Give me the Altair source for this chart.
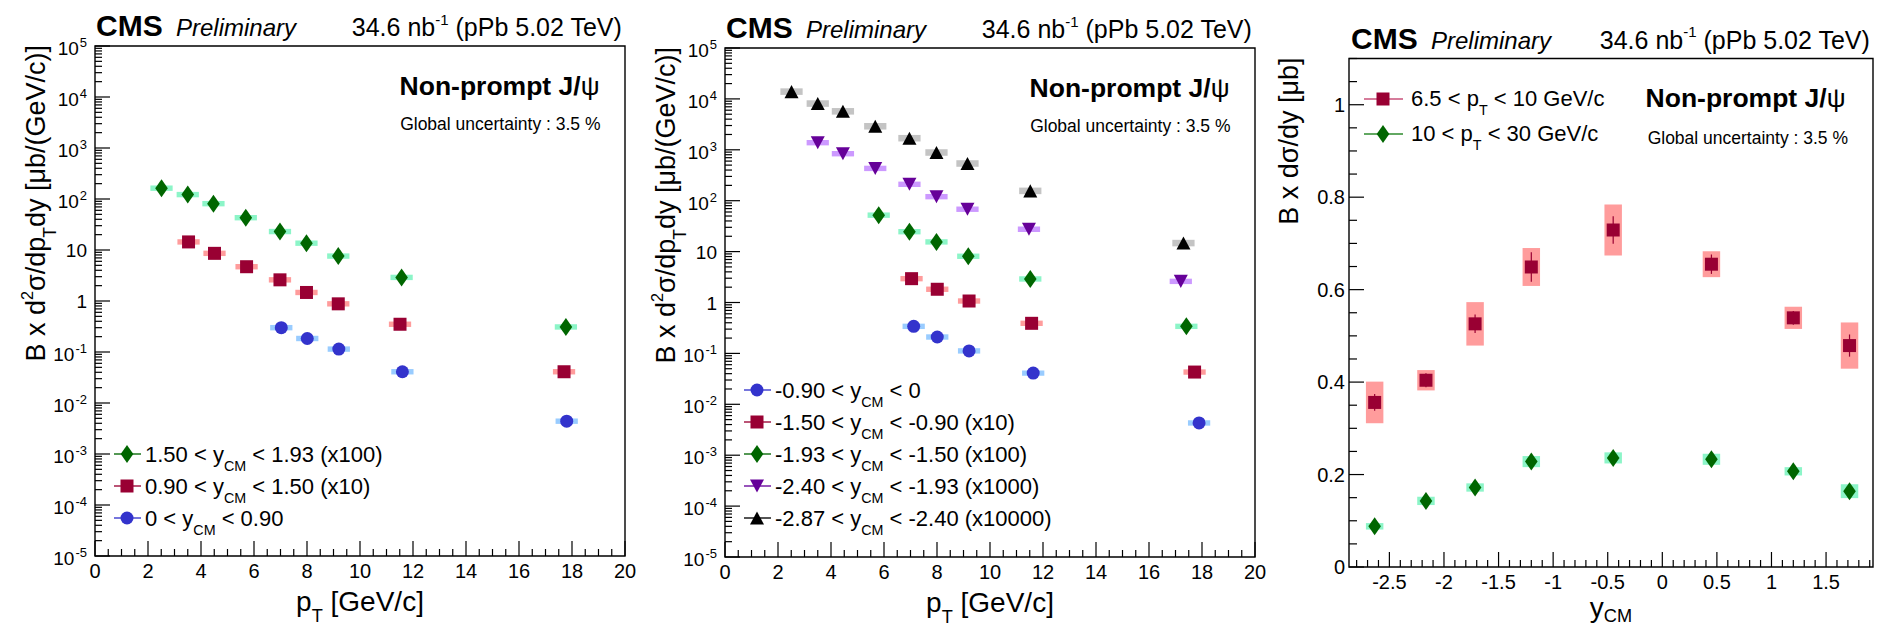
import altair as alt
import pandas as pd

FONT = "Liberation Sans"

# ---------------- values ----------------
# left panel (p-going direction), scaled cross sections
p1_dia_pt = [2.51, 3.50, 4.47, 5.69, 6.98, 7.98, 9.18, 11.57, 17.77]
p1_dia_val = [163, 122, 81, 43, 23, 13.6, 7.6, 2.9, 0.31]
p1_sq_pt = [3.53, 4.51, 5.72, 6.98, 7.98, 9.18, 11.51, 17.70]
p1_sq_val = [14.4, 8.6, 4.7, 2.6, 1.47, 0.88, 0.35, 0.041]
p1_ci_pt = [7.03, 8.01, 9.20, 11.60, 17.80]
p1_ci_val = [0.30, 0.184, 0.114, 0.041, 0.0044]

# middle panel (Pb-going direction)
p2_ci_pt = [7.12, 8.01, 9.21, 11.63, 17.89]
p2_ci_val = [0.34, 0.21, 0.112, 0.041, 0.0043]
p2_sq_pt = [7.04, 8.01, 9.21, 11.57, 17.72]
p2_sq_val = [2.94, 1.82, 1.07, 0.39, 0.043]
p2_dia_pt = [5.80, 6.96, 7.98, 9.18, 11.52, 17.41]
p2_dia_val = [52, 24.6, 15.5, 8.1, 2.9, 0.34]
p2_tdn_pt = [3.50, 4.45, 5.67, 6.96, 7.98, 9.15, 11.47, 17.20]
p2_tdn_val = [1380, 838, 431, 210, 120, 68, 27.5, 2.6]
p2_tup_pt = [2.51, 3.50, 4.45, 5.67, 6.96, 7.98, 9.15, 11.52, 17.30]
p2_tup_val = [13900, 8100, 5700, 2900, 1690, 885, 538, 156, 14.7]

# right panel: B x dsigma/dy vs y_CM
p3_y = [-2.635, -2.165, -1.715, -1.20, -0.45, 0.45, 1.20, 1.715]
p3_lo_val = [0.356, 0.404, 0.526, 0.649, 0.729, 0.655, 0.539, 0.479]
p3_lo_stat = [0.018, 0.015, 0.020, 0.032, 0.030, 0.021, 0.015, 0.024]
p3_lo_syst = [0.045, 0.022, 0.047, 0.041, 0.055, 0.028, 0.024, 0.050]
p3_hi_val = [0.088, 0.143, 0.172, 0.228, 0.236, 0.233, 0.207, 0.164]
p3_hi_stat = [0.004, 0.005, 0.005, 0.006, 0.006, 0.006, 0.005, 0.005]
p3_hi_syst = [0.007, 0.009, 0.009, 0.012, 0.012, 0.012, 0.009, 0.015]

# axis ticks and labels
pt_major = [0, 2, 4, 6, 8, 10, 12, 14, 16, 18, 20]
pt_labels = ["0", "2", "4", "6", "8", "10", "12", "14", "16", "18", "20"]
pt_minor = [v / 2 for v in range(0, 41) if v % 4 != 0]
log_major = [1e-5, 1e-4, 1e-3, 1e-2, 1e-1, 1, 10, 1e2, 1e3, 1e4, 1e5]
log_base = ["10", "10", "10", "10", "10", "1", "10", "10", "10", "10", "10"]
log_exp = ["-5", "-4", "-3", "-2", "-1", "", "", "2", "3", "4", "5"]
log_minor = [m * 10.0 ** k for k in range(-5, 5) for m in range(2, 10)]
y3_major = [0, 0.2, 0.4, 0.6, 0.8, 1.0]
y3_labels = ["0", "0.2", "0.4", "0.6", "0.8", "1"]
y3_minor = [round(0.05 * i, 2) for i in range(1, 23) if i % 4 != 0]
x3_major = [-2.5, -2, -1.5, -1, -0.5, 0, 0.5, 1, 1.5]
x3_labels = ["-2.5", "-2", "-1.5", "-1", "-0.5", "0", "0.5", "1", "1.5"]
x3_minor = [round(0.1 * i, 1) for i in range(-28, 20) if i % 5 != 0]

# ---------------- helpers ----------------
REG = {' ': 278, '!': 278, '%': 889, '(': 333, ')': 333, '+': 584, ',': 278, '-': 333, '.': 278,
       '/': 278, ':': 278, '<': 584, '=': 584, '>': 584, '[': 278, ']': 278,
       'A': 667, 'B': 667, 'C': 722, 'D': 722, 'E': 667, 'F': 611, 'G': 778, 'H': 722, 'I': 278,
       'J': 500, 'K': 667, 'L': 556, 'M': 833, 'N': 722, 'O': 778, 'P': 667, 'Q': 778, 'R': 722,
       'S': 667, 'T': 611, 'U': 722, 'V': 667, 'W': 944, 'X': 667, 'Y': 667, 'Z': 611,
       'a': 556, 'b': 556, 'c': 500, 'd': 556, 'e': 556, 'f': 278, 'g': 556, 'h': 556, 'i': 222,
       'j': 222, 'k': 500, 'l': 222, 'm': 833, 'n': 556, 'o': 556, 'p': 556, 'q': 556, 'r': 333,
       's': 500, 't': 278, 'u': 556, 'v': 500, 'w': 722, 'x': 500, 'y': 500, 'z': 500,
       'σ': 580, 'μ': 576, 'ψ': 730}
for _d in "0123456789":
    REG[_d] = 556
BOLD = dict(REG)
BOLD.update({'b': 611, 'c': 556, 'd': 611, 'g': 611, 'h': 611, 'n': 611, 'o': 611, 'p': 611,
             'q': 611, 'r': 389, 't': 333, 'u': 611, 'm': 889, 'J': 556, 'ψ': 760})


def tw(s, size, bold=False):
    t = BOLD if bold else REG
    return sum(t.get(c, 556) for c in s) * size / 1000.0


ONE = pd.DataFrame({"k": [0]})


def text_layer(s, x, y, size, weight="normal", style="normal", angle=0, align="left", color="black"):
    return alt.Chart(ONE).mark_text(
        text=s, font=FONT, fontSize=size, fontWeight=weight, fontStyle=style,
        angle=angle, align=align, baseline="alphabetic", color=color
    ).encode(x=alt.value(x), y=alt.value(y))


def rich(parts, x, y, size, anchor="left", angle=0, weight="normal", style="normal", sub=0.42):
    items = []
    for p in parts:
        s, kind = p[0], p[1]
        w = p[2] if len(p) > 2 else weight
        if kind == "sub":
            fs, off = size * 0.65, size * sub
        elif kind == "sup":
            fs, off = size * 0.6, -size * 0.45
        else:
            fs, off = size, 0.0
        items.append((s, fs, off, w))
    total = sum(tw(s, fs, w == "bold") for s, fs, off, w in items)
    pos = {"left": 0.0, "center": -total / 2.0, "right": -total}[anchor]
    out = []
    for s, fs, off, w in items:
        b = w == "bold"
        lead = len(s) - len(s.lstrip(" "))
        core = s.strip(" ")
        p = pos + tw(" " * lead, fs, b)
        if core:
            if angle == 0:
                px, py = x + p, y + off
            else:
                px, py = x + off, y - p
            out.append(text_layer(core, px, py, fs, w, style, angle))
        pos += tw(s, fs, b)
    return out


def lin(dom, rng):
    return alt.Scale(domain=dom, range=rng, nice=False, zero=False)


def logs(dom, rng):
    return alt.Scale(type="log", domain=dom, range=rng, nice=False)


SQ = "square"
CI = "circle"
DIA = "M0,-1L0.7,0L0,1L-0.7,0Z"
TUP = "M0,-0.93L1,0.93L-1,0.93Z"
TDN = "M0,0.93L1,-0.93L-1,-0.93Z"
SIZE = {SQ: 169, CI: 169, DIA: 324, TUP: 196, TDN: 196}

GREEN, GREEN_BOX = "#006600", "#8cf5c8"
RED, RED_BOX = "#990033", "#ff9c9c"
BLUE, BLUE_BOX = "#3333cc", "#99ccff"
PURPLE, PURPLE_BOX = "#660099", "#cc99ff"
BLACK, GRAY_BOX = "#000000", "#c4c4c4"


def frame(sx, sy, xd, yd):
    df = pd.DataFrame({"a": [xd[0]], "b": [xd[1]], "c": [yd[0]], "d": [yd[1]]})
    return alt.Chart(df).mark_rect(fillOpacity=0, stroke="black", strokeWidth=1.4).encode(
        x=alt.X("a:Q", scale=sx, axis=None), x2=alt.X2("b"),
        y=alt.Y("c:Q", scale=sy, axis=None), y2=alt.Y2("d"))


def xticks(vals, sx, Y1, length):
    return alt.Chart(pd.DataFrame({"v": vals})).mark_rule(color="black", strokeWidth=1.2).encode(
        x=alt.X("v:Q", scale=sx, axis=None), y=alt.value(Y1), y2=alt.value(Y1 - length))


def yticks(vals, sy, X0, length):
    return alt.Chart(pd.DataFrame({"v": vals})).mark_rule(color="black", strokeWidth=1.2).encode(
        y=alt.Y("v:Q", scale=sy, axis=None), x=alt.value(X0), x2=alt.value(X0 + length))


def header(X0, X1, Y0, np_dx, np_dy, gl_dx, gl_dy, cms_dx=1):
    L = [text_layer("CMS", X0 + cms_dx, Y0 - 10, 30, weight="bold"),
         text_layer("Preliminary", X0 + cms_dx + 80, Y0 - 10, 24, style="italic")]
    L += rich([("34.6 nb", "n"), ("-1", "sup"), (" (pPb 5.02 TeV)", "n")], X1, Y0 - 10, 25, anchor="right")
    L += rich([("Non-prompt J/", "n", "bold"), ("ψ", "n", "normal")], X1 - np_dx, Y0 + np_dy, 26.5, anchor="right")
    L += rich([("Global uncertainty : 3.5 %", "n")], X1 - gl_dx, Y0 + gl_dy, 17.5, anchor="right")
    return L


def pt_panel(X0, X1, Y0, Y1, series, leg_base):
    sx = lin([0, 20], [X0, X1])
    sy = logs([1e-5, 1e5], [Y1, Y0])
    L = []
    for s in series:
        df = pd.DataFrame({"pt": s["pt"], "v": s["val"]})
        df["lo"] = df["pt"] - 0.42
        df["hi"] = df["pt"] + 0.42
        df["ylo"] = df["v"] / (1 + s["e"])
        df["yhi"] = df["v"] * (1 + s["e"])
        L.append(alt.Chart(df).mark_rect(color=s["box"]).encode(
            x=alt.X("lo:Q", scale=sx, axis=None), x2=alt.X2("hi"),
            y=alt.Y("ylo:Q", scale=sy, axis=None), y2=alt.Y2("yhi")))
    for s in series:
        df = pd.DataFrame({"pt": s["pt"], "v": s["val"]})
        L.append(alt.Chart(df).mark_point(shape=s["shape"], filled=True, color=s["color"],
                                          size=SIZE[s["shape"]], opacity=1).encode(
            x=alt.X("pt:Q", scale=sx, axis=None), y=alt.Y("v:Q", scale=sy, axis=None)))
    # frame and inward ticks
    L.append(frame(sx, sy, [0, 20], [1e-5, 1e5]))
    L.append(xticks(pt_major, sx, Y1, 15))
    L.append(xticks(pt_minor, sx, Y1, 7))
    L.append(yticks(log_major, sy, X0, 15))
    L.append(yticks(log_minor, sy, X0, 7))
    # tick labels
    xl = pd.DataFrame({"v": pt_major, "t": pt_labels})
    L.append(alt.Chart(xl).mark_text(font=FONT, fontSize=20, align="center", baseline="alphabetic").encode(
        x=alt.X("v:Q", scale=sx, axis=None), y=alt.value(Y1 + 22), text="t:N"))
    yl = pd.DataFrame({"v": log_major, "b": log_base, "e": log_exp})
    pos = yl[yl["e"].str.len() == 1]
    neg = yl[yl["e"].str.len() == 2]
    plain = yl[yl["e"] == ""]
    L.append(alt.Chart(yl[yl["e"] != ""]).mark_text(font=FONT, fontSize=13, align="right", baseline="alphabetic", dy=1).encode(
        y=alt.Y("v:Q", scale=sy, axis=None), x=alt.value(X0 - 8), text="e:N"))
    L.append(alt.Chart(pos).mark_text(font=FONT, fontSize=19, align="right", baseline="alphabetic", dy=9,
                                      dx=-(tw("5", 13) + 1)).encode(
        y=alt.Y("v:Q", scale=sy, axis=None), x=alt.value(X0 - 8), text="b:N"))
    L.append(alt.Chart(neg).mark_text(font=FONT, fontSize=19, align="right", baseline="alphabetic", dy=9,
                                      dx=-(tw("-1", 13) + 1)).encode(
        y=alt.Y("v:Q", scale=sy, axis=None), x=alt.value(X0 - 8), text="b:N"))
    L.append(alt.Chart(plain).mark_text(font=FONT, fontSize=19, align="right", baseline="alphabetic", dy=7).encode(
        y=alt.Y("v:Q", scale=sy, axis=None), x=alt.value(X0 - 8), text="b:N"))
    # axis titles
    L += rich([("p", "n"), ("T", "sub"), (" [GeV/c]", "n")], (X0 + X1) / 2, Y1 + 55, 28, anchor="center",
              sub=0.38)
    L += rich([("B x d", "n"), ("2", "sup"), ("σ/dp", "n"), ("T", "sub"), ("dy [μb/(GeV/c)]", "n")],
              X0 - 50, Y0 - 1, 27, anchor="right", angle=270)
    # header
    L += header(X0, X1, Y0, 25, 49, 24.5, 84)
    # legend
    for i, s in enumerate(sorted(series, key=lambda d: d["leg"])):
        yb = Y0 + leg_base + 32 * i
        ym = yb - 8
        L.append(alt.Chart(ONE).mark_rule(color=s["color"], strokeWidth=1.8, opacity=0.75).encode(
            x=alt.value(X0 + 19), x2=alt.value(X0 + 46), y=alt.value(ym)))
        L.append(alt.Chart(ONE).mark_point(shape=s["shape"], filled=True, color=s["color"],
                                           size=SIZE[s["shape"]], opacity=1).encode(
            x=alt.value(X0 + 32), y=alt.value(ym)))
        L += rich(s["label"], X0 + 50, yb, 22)
    return L


def yparts(lo, hi, scale=""):
    tail = " < " + hi + ((" (" + scale + ")") if scale else "")
    return [(lo + " < y", "n"), ("CM", "sub"), (tail, "n")]


# ---------------- panel 1 ----------------
P1 = dict(X0=87, X1=617, Y0=38, Y1=548)
series1 = [
    dict(pt=p1_dia_pt, val=p1_dia_val, color=GREEN, box=GREEN_BOX, shape=DIA, e=0.13, leg=0,
         label=yparts("1.50", "1.93", "x100")),
    dict(pt=p1_sq_pt, val=p1_sq_val, color=RED, box=RED_BOX, shape=SQ, e=0.13, leg=1,
         label=yparts("0.90", "1.50", "x10")),
    dict(pt=p1_ci_pt, val=p1_ci_val, color=BLUE, box=BLUE_BOX, shape=CI, e=0.13, leg=2,
         label=yparts("0", "0.90")),
]
layers = pt_panel(P1["X0"], P1["X1"], P1["Y0"], P1["Y1"], series1, 416)

# ---------------- panel 2 ----------------
P2 = dict(X0=717, X1=1247, Y0=40, Y1=549)
series2 = [
    dict(pt=p2_tup_pt, val=p2_tup_val, color=BLACK, box=GRAY_BOX, shape=TUP, e=0.16, leg=4,
         label=yparts("-2.87", "-2.40", "x10000")),
    dict(pt=p2_tdn_pt, val=p2_tdn_val, color=PURPLE, box=PURPLE_BOX, shape=TDN, e=0.13, leg=3,
         label=yparts("-2.40", "-1.93", "x1000")),
    dict(pt=p2_dia_pt, val=p2_dia_val, color=GREEN, box=GREEN_BOX, shape=DIA, e=0.13, leg=2,
         label=yparts("-1.93", "-1.50", "x100")),
    dict(pt=p2_sq_pt, val=p2_sq_val, color=RED, box=RED_BOX, shape=SQ, e=0.13, leg=1,
         label=yparts("-1.50", "-0.90", "x10")),
    dict(pt=p2_ci_pt, val=p2_ci_val, color=BLUE, box=BLUE_BOX, shape=CI, e=0.13, leg=0,
         label=yparts("-0.90", "0")),
]
layers += pt_panel(P2["X0"], P2["X1"], P2["Y0"], P2["Y1"], series2, 350)

# ---------------- panel 3 ----------------
X0, X1, Y0, Y1 = 1341, 1865, 50.5, 559
sx3 = lin([-2.87, 1.93], [X0, X1])
sy3 = lin([0, 1.1], [Y1, Y0])
d_lo = pd.DataFrame({"y": p3_y, "v": p3_lo_val, "st": p3_lo_stat, "sy": p3_lo_syst})
d_hi = pd.DataFrame({"y": p3_y, "v": p3_hi_val, "st": p3_hi_stat, "sy": p3_hi_syst})
for d in (d_lo, d_hi):
    d["xl"] = d["y"] - 0.08
    d["xh"] = d["y"] + 0.08
    d["bl"] = d["v"] - d["sy"]
    d["bh"] = d["v"] + d["sy"]
    d["el"] = d["v"] - d["st"]
    d["eh"] = d["v"] + d["st"]
for d, box in ((d_lo, RED_BOX), (d_hi, GREEN_BOX)):
    layers.append(alt.Chart(d).mark_rect(color=box).encode(
        x=alt.X("xl:Q", scale=sx3, axis=None), x2=alt.X2("xh"),
        y=alt.Y("bl:Q", scale=sy3, axis=None), y2=alt.Y2("bh")))
for d, col in ((d_lo, RED), (d_hi, GREEN)):
    layers.append(alt.Chart(d).mark_rule(color=col, strokeWidth=1.2).encode(
        x=alt.X("y:Q", scale=sx3, axis=None),
        y=alt.Y("el:Q", scale=sy3, axis=None), y2=alt.Y2("eh")))
layers.append(alt.Chart(d_lo).mark_point(shape=SQ, filled=True, color=RED, size=SIZE[SQ], opacity=1).encode(
    x=alt.X("y:Q", scale=sx3, axis=None), y=alt.Y("v:Q", scale=sy3, axis=None)))
layers.append(alt.Chart(d_hi).mark_point(shape=DIA, filled=True, color=GREEN, size=SIZE[DIA], opacity=1).encode(
    x=alt.X("y:Q", scale=sx3, axis=None), y=alt.Y("v:Q", scale=sy3, axis=None)))
layers.append(frame(sx3, sy3, [-2.87, 1.93], [0, 1.1]))
layers.append(xticks(x3_major, sx3, Y1, 15))
layers.append(xticks(x3_minor, sx3, Y1, 7))
layers.append(yticks(y3_major, sy3, X0, 15))
layers.append(yticks(y3_minor, sy3, X0, 8))
layers.append(alt.Chart(pd.DataFrame({"v": x3_major, "t": x3_labels})).mark_text(
    font=FONT, fontSize=20, align="center", baseline="alphabetic").encode(
    x=alt.X("v:Q", scale=sx3, axis=None), y=alt.value(Y1 + 21.5), text="t:N"))
layers.append(alt.Chart(pd.DataFrame({"v": y3_major, "t": y3_labels})).mark_text(
    font=FONT, fontSize=20, align="right", baseline="alphabetic", dy=7).encode(
    y=alt.Y("v:Q", scale=sy3, axis=None), x=alt.value(X0 - 4), text="t:N"))
layers += rich([("y", "n"), ("CM", "sub")], (X0 + X1) / 2, Y1 + 49.5, 28, anchor="center", sub=0.2)
layers += rich([("B x dσ/dy [μb]", "n")], X0 - 51, Y0, 27, anchor="right", angle=270)
layers += header(X0, X1, Y0, 27, 48.5, 25, 85.5, cms_dx=2)
leg3 = [
    (RED, SQ, "#c8507a", [("6.5 < p", "n"), ("T", "sub"), (" < 10 GeV/c", "n")]),
    (GREEN, DIA, "#2e8b2e", [("10 < p", "n"), ("T", "sub"), (" < 30 GeV/c", "n")]),
]
for i, (col, shp, lcol, parts) in enumerate(leg3):
    ym = Y0 + 40.5 + 35 * i
    layers.append(alt.Chart(ONE).mark_rule(color=lcol, strokeWidth=1.6).encode(
        x=alt.value(X0 + 15), x2=alt.value(X0 + 54), y=alt.value(ym)))
    layers.append(alt.Chart(ONE).mark_point(shape=shp, filled=True, color=col, size=SIZE[shp], opacity=1).encode(
        x=alt.value(X0 + 34), y=alt.value(ym)))
    layers += rich(parts, X0 + 62, ym + 7, 22)

chart = alt.layer(*layers).resolve_scale(x="independent", y="independent").properties(
    width=1866, height=618, padding=0, autosize=alt.AutoSizeParams(type="none"),
    background="white"
).configure_view(stroke=None)

chart.save("out.html", embed_options={"renderer": "svg", "actions": False})
